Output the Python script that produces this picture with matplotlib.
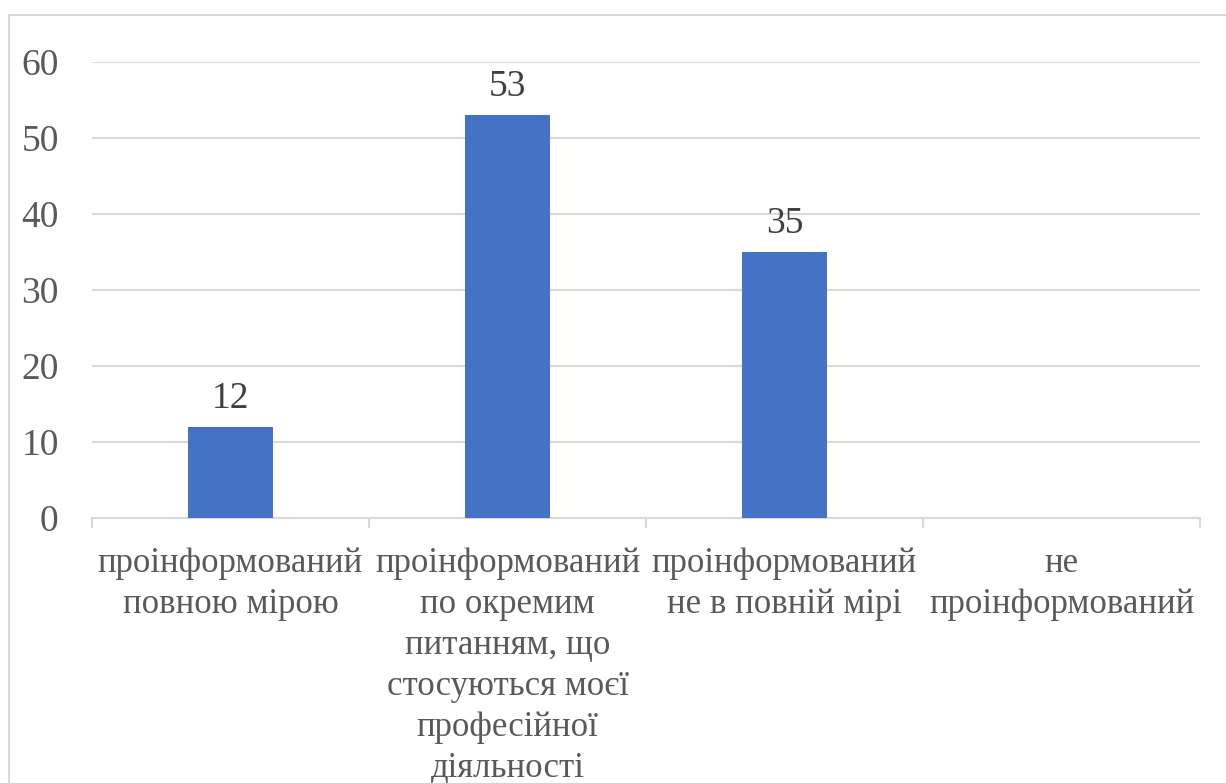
import matplotlib.pyplot as plt
import numpy as np
from matplotlib.patches import Rectangle

categories = [
    'проінформований\nповною мірою',
    'проінформований\nпо окремим\nпитанням, що\nстосуються моєї\nпрофесійної\nдіяльності',
    'проінформований\nне в повній мірі',
    'не\nпроінформований',
]
values = [12, 53, 35, 0]
yticks = [0, 10, 20, 30, 40, 50, 60]

plt.rcParams['font.family'] = ['Liberation Serif', 'DejaVu Serif']

fig = plt.figure(figsize=(12.26, 7.83), dpi=100)
ax = fig.add_axes([92 / 1226, 1 - 518 / 783, (1200 - 92) / 1226, (518 - 62) / 783])

x = np.arange(len(categories))
bars = ax.bar(x, values, width=0.31, color='#4472C4', zorder=3)

for xi, v in zip(x, values):
    if v:
        ax.annotate(str(v), (xi, v), xytext=(0, 8), textcoords='offset points',
                    ha='center', va='bottom', fontsize=27, color='#404040')

ax.set_xlim(-0.5, len(categories) - 0.5)
ax.set_ylim(0, 60)
ax.set_yticks(yticks)
ax.yaxis.grid(True, color='#D9D9D9', linewidth=1.5, zorder=0)
ax.tick_params(axis='y', length=0, pad=24, labelsize=27, labelcolor='#595959')

# category labels and boundary ticks
ax.set_xticks(x)
ax.set_xticklabels(categories, fontsize=25, color='#595959', linespacing=1.32, va='top')
ax.tick_params(axis='x', length=0, pad=21)
ax.set_xticks(np.arange(-0.5, len(categories)), minor=True)
ax.tick_params(axis='x', which='minor', length=7, width=1.5, color='#D9D9D9')

for s in ['top', 'right', 'left']:
    ax.spines[s].set_visible(False)
ax.spines['bottom'].set_color('#D9D9D9')
ax.spines['bottom'].set_linewidth(1.5)

# chart area border (cut off at right and bottom)
fig.patches.append(Rectangle((9 / 1226, -0.1), 1.2, 1 - 15 / 783 + 0.1,
                             transform=fig.transFigure, fill=False,
                             edgecolor='#D9D9D9', linewidth=1.5))

fig.savefig('out.png', dpi=100)
